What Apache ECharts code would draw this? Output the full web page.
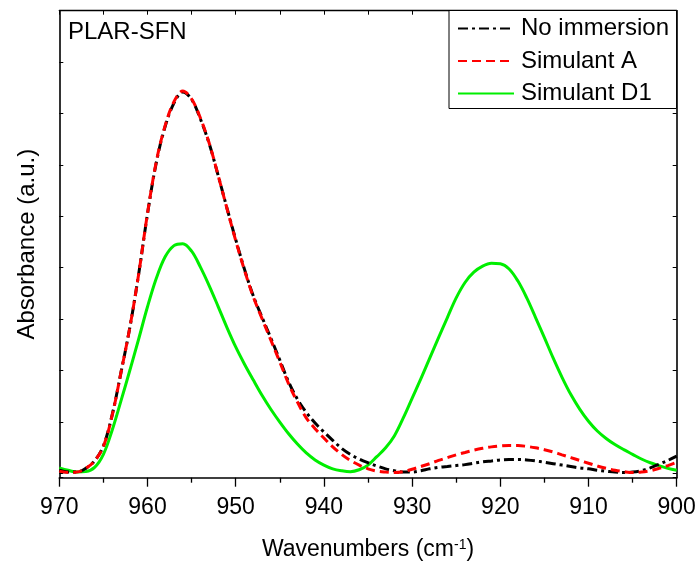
<!DOCTYPE html>
<html>
<head>
<meta charset="utf-8">
<script src="https://cdn.jsdelivr.net/npm/echarts@6/dist/echarts.min.js"></script>
<style>
html,body{margin:0;padding:0;background:#fff;}
#chart{width:697px;height:566px;}
</style>
</head>
<body>
<div id="chart"></div>
<script>
// Wavenumbers (cm-1), from 970 down to 900
const wavenumbers = [970,969,968,967,966,965,964,963,962,961,960,959,958,957,956,955,954,953,952,951,950,949,948,947,946,945,944,943,942,941,940,939,938,937,936,935,934,933,932,931,930,929,928,927,926,925,924,923,922,921,920,919,918,917,916,915,914,913,912,911,910,909,908,907,906,905,904,903,902,901,900];

const noImmersion = [0.016,0.012,0.012,0.020,0.036,0.068,0.135,0.226,0.322,0.436,0.565,0.675,0.752,0.802,0.826,0.810,0.768,0.715,0.648,0.578,0.510,0.446,0.389,0.343,0.298,0.252,0.205,0.168,0.140,0.117,0.098,0.080,0.063,0.050,0.040,0.032,0.025,0.019,0.015,0.012,0.012,0.015,0.019,0.022,0.024,0.026,0.028,0.031,0.034,0.036,0.038,0.039,0.039,0.038,0.036,0.033,0.030,0.027,0.024,0.021,0.019,0.016,0.014,0.012,0.011,0.012,0.015,0.021,0.029,0.037,0.046];

const simulantA = [0.014,0.011,0.012,0.020,0.036,0.067,0.134,0.226,0.322,0.436,0.566,0.677,0.754,0.805,0.828,0.811,0.770,0.716,0.648,0.577,0.508,0.444,0.387,0.340,0.294,0.248,0.201,0.162,0.128,0.105,0.085,0.066,0.050,0.037,0.027,0.019,0.014,0.012,0.011,0.013,0.018,0.024,0.030,0.037,0.043,0.049,0.054,0.059,0.063,0.066,0.068,0.069,0.069,0.067,0.064,0.060,0.055,0.049,0.043,0.037,0.031,0.025,0.020,0.016,0.013,0.011,0.012,0.015,0.020,0.026,0.033];

const simulantD1 = [0.021,0.016,0.012,0.013,0.022,0.050,0.102,0.165,0.230,0.297,0.366,0.427,0.473,0.497,0.501,0.485,0.451,0.411,0.367,0.322,0.280,0.243,0.209,0.176,0.146,0.119,0.094,0.072,0.053,0.038,0.027,0.019,0.015,0.013,0.017,0.027,0.045,0.064,0.090,0.128,0.170,0.212,0.256,0.300,0.343,0.385,0.418,0.440,0.453,0.459,0.458,0.447,0.421,0.385,0.343,0.300,0.256,0.215,0.178,0.147,0.121,0.100,0.084,0.071,0.060,0.050,0.040,0.032,0.026,0.020,0.016];

const seriesNames = ['No immersion','Simulant A','Simulant D1'];
const xTicks = [970,960,950,940,930,920,910,900];

function pairs(vals){ return wavenumbers.map((w,i)=>[w, vals[i]]); }

const FONT = '"Liberation Sans", Arial, sans-serif';
const chart = echarts.init(document.getElementById('chart'), null, {renderer:'canvas'});

chart.setOption({
  animation:false,
  backgroundColor:'#fff',
  grid:{left:59.3, right:20.3, top:10.7, bottom:88.3, containLabel:false, outerBoundsMode:'none'},
  xAxis:[{
    type:'value', position:'bottom', min:900, max:970, interval:10, inverse:true,
    axisLine:{show:true, onZero:false, lineStyle:{color:'#000', width:1.6}},
    axisTick:{show:true, inside:false, length:9, lineStyle:{color:'#000', width:1.3}},
    minorTick:{show:true, splitNumber:2, length:5, lineStyle:{color:'#000', width:1.3}},
    axisLabel:{show:true, color:'#000', fontSize:23, fontFamily:FONT, margin:18,
      formatter:function(v){ return xTicks.indexOf(v)>=0 ? String(v) : ''; }},
    splitLine:{show:false},
    name:'Wavenumbers (cm{sup|-1})', nameLocation:'middle', nameGap:60,
    nameTextStyle:{color:'#000', fontSize:23, fontFamily:FONT,
      rich:{sup:{fontSize:14, fontFamily:FONT, color:'#000', verticalAlign:'top', lineHeight:14, padding:[0,0,10,0]}}}
  },{
    type:'value', position:'top', min:900, max:970, interval:5, inverse:true,
    axisLine:{show:true, onZero:false, lineStyle:{color:'#000', width:1.3}},
    axisTick:{show:true, inside:true, length:4, lineStyle:{color:'#000', width:1}},
    axisLabel:{show:false}, splitLine:{show:false}
  }],
  yAxis:[{
    type:'value', min:0, max:1, position:'left',
    axisLine:{show:false}, axisTick:{show:false}, axisLabel:{show:false}, splitLine:{show:false},
    name:'Absorbance (a.u.)', nameLocation:'middle', nameGap:20, nameRotate:90,
    nameTextStyle:{color:'#000', fontSize:24, fontFamily:FONT}
  },{
    type:'value', min:0, max:9.085, interval:1, inverse:true, position:'left',
    axisLine:{show:true, onZero:false, lineStyle:{color:'#000', width:1.6}},
    axisTick:{show:true, inside:true, length:4, lineStyle:{color:'#000', width:1}},
    axisLabel:{show:false}, splitLine:{show:false}
  },{
    type:'value', min:0, max:9.085, interval:1, inverse:true, position:'right',
    axisLine:{show:true, onZero:false, lineStyle:{color:'#000', width:1.6}},
    axisTick:{show:true, inside:true, length:4, lineStyle:{color:'#000', width:1}},
    axisLabel:{show:false}, splitLine:{show:false}
  }],
  legend:{
    show:true, orient:'vertical', left:449, top:10.5,
    backgroundColor:'#fff', borderColor:'#000', borderWidth:1, borderRadius:0,
    padding:[6,7.5,3,8], itemGap:8.5, itemWidth:56, itemHeight:14,
    itemStyle:{color:'rgba(0,0,0,0)', borderWidth:0, opacity:0},
    textStyle:{color:'#000', fontSize:24, fontFamily:FONT, lineHeight:22, padding:[0,0,0,2]},
    data:seriesNames
  },
  graphic:[{
    type:'text', left:68, top:20,
    style:{text:'PLAR-SFN', fill:'#000', fontSize:24, fontFamily:FONT}
  }],
  series:[{
    name:seriesNames[0], type:'line', xAxisIndex:0, yAxisIndex:0, data:pairs(noImmersion),
    smooth:0.35, symbol:'none', z:3,
    lineStyle:{color:'#000', width:3, type:[10,4,3,4]}, itemStyle:{color:'#000'}
  },{
    name:seriesNames[1], type:'line', xAxisIndex:0, yAxisIndex:0, data:pairs(simulantA),
    smooth:0.35, symbol:'none', z:4,
    lineStyle:{color:'#ff0000', width:3, type:[9,5]}, itemStyle:{color:'#ff0000'}
  },{
    name:seriesNames[2], type:'line', xAxisIndex:0, yAxisIndex:0, data:pairs(simulantD1),
    smooth:0.35, symbol:'none', z:2,
    lineStyle:{color:'#00ee00', width:3, type:'solid'}, itemStyle:{color:'#00ee00'}
  }]
});
</script>
</body>
</html>
